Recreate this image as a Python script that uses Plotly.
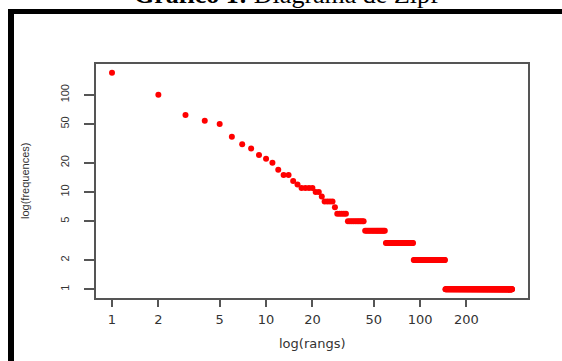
import numpy as np
import plotly.graph_objects as go

# Zipf data: frequency levels and how many consecutive ranks share them
run_freqs = [169, 100, 62, 54, 50, 37, 31, 28, 24, 22, 20, 17,
             15, 13, 12, 11, 10, 9, 8, 7, 6, 5, 4, 3, 2, 1]
run_counts = [1, 1, 1, 1, 1, 1, 1, 1, 1, 1, 1, 1,
              2, 1, 1, 4, 2, 1, 4, 1, 5, 10, 16, 31, 55, 250]

x_ticks = [1, 2, 5, 10, 20, 50, 100, 200]
y_ticks = [1, 2, 5, 10, 20, 50, 100]

title_text = "<b>Gráfico 1:</b> Diagrama de Zipf"
x_title = "log(rangs)"
y_title = "log(frequences)"

freqs = np.repeat(run_freqs, run_counts)
ranks = np.arange(1, len(freqs) + 1)

W, H = 562, 361
L, R, T, B = 96, 34, 64, 63
pw, ph = W - L - R, H - T - B

def px_x(p):
    return (p - L) / pw

def px_y(p):
    return 1 - (p - T) / ph

def padded(lo, hi):
    a, b = np.log10(lo), np.log10(hi)
    d = (b - a) * 0.04
    return [a - d, b + d]

fig = go.Figure()
fig.add_trace(go.Scatter(
    x=ranks, y=freqs, mode="markers",
    marker=dict(color="#ff0000", size=6, line=dict(width=0)),
    hoverinfo="skip", showlegend=False,
))

axis_common = dict(
    type="log", showgrid=False, zeroline=False,
    showline=True, mirror=True, linecolor="#555555", linewidth=1.5,
    ticks="outside", tickcolor="#555555", tickwidth=1.5,
    tickmode="array",
)

fig.update_xaxes(
    **axis_common, range=padded(ranks.min(), ranks.max()),
    tickvals=x_ticks, ticktext=[str(v) for v in x_ticks], ticklen=7,
    tickfont=dict(family="DejaVu Sans", size=13, color="#333333"),
    ticklabelstandoff=2,
)
fig.update_yaxes(
    **axis_common, range=padded(freqs.min(), freqs.max()),
    tickvals=y_ticks, ticktext=[str(v) for v in y_ticks], ticklen=10,
    tickangle=-90,
    tickfont=dict(family="Liberation Sans", size=11, color="#333333"),
    ticklabelstandoff=11,
)

# document frame (thick black border at left and top)
fig.add_shape(type="rect", xref="paper", yref="paper",
              x0=px_x(8), x1=px_x(14), y0=px_y(380), y1=px_y(9),
              fillcolor="black", line=dict(width=0), layer="above")
fig.add_shape(type="rect", xref="paper", yref="paper",
              x0=px_x(8), x1=px_x(580), y0=px_y(14), y1=px_y(9),
              fillcolor="black", line=dict(width=0), layer="above")

fig.add_annotation(text=title_text, xref="paper", yref="paper",
                   x=px_x(286), y=px_y(11), xanchor="center", yanchor="bottom",
                   showarrow=False,
                   font=dict(family="Liberation Serif", size=26, color="black"))
fig.add_annotation(text=x_title, xref="paper", yref="paper",
                   x=px_x(312), y=px_y(343), xanchor="center", yanchor="middle",
                   showarrow=False,
                   font=dict(family="DejaVu Sans", size=13, color="#333333"))
fig.add_annotation(text=y_title, xref="paper", yref="paper",
                   x=px_x(25), y=px_y(181), xanchor="center", yanchor="middle",
                   textangle=-90, showarrow=False,
                   font=dict(family="Liberation Sans", size=11, color="#333333"))

fig.update_layout(
    width=W, height=H,
    margin=dict(l=L, r=R, t=T, b=B, autoexpand=False),
    paper_bgcolor="white", plot_bgcolor="white",
    showlegend=False,
)

fig.write_html(
    "out.html",
    config={"displayModeBar": False},
    post_script="document.body.style.margin='0';document.body.style.overflow='hidden';",
)
